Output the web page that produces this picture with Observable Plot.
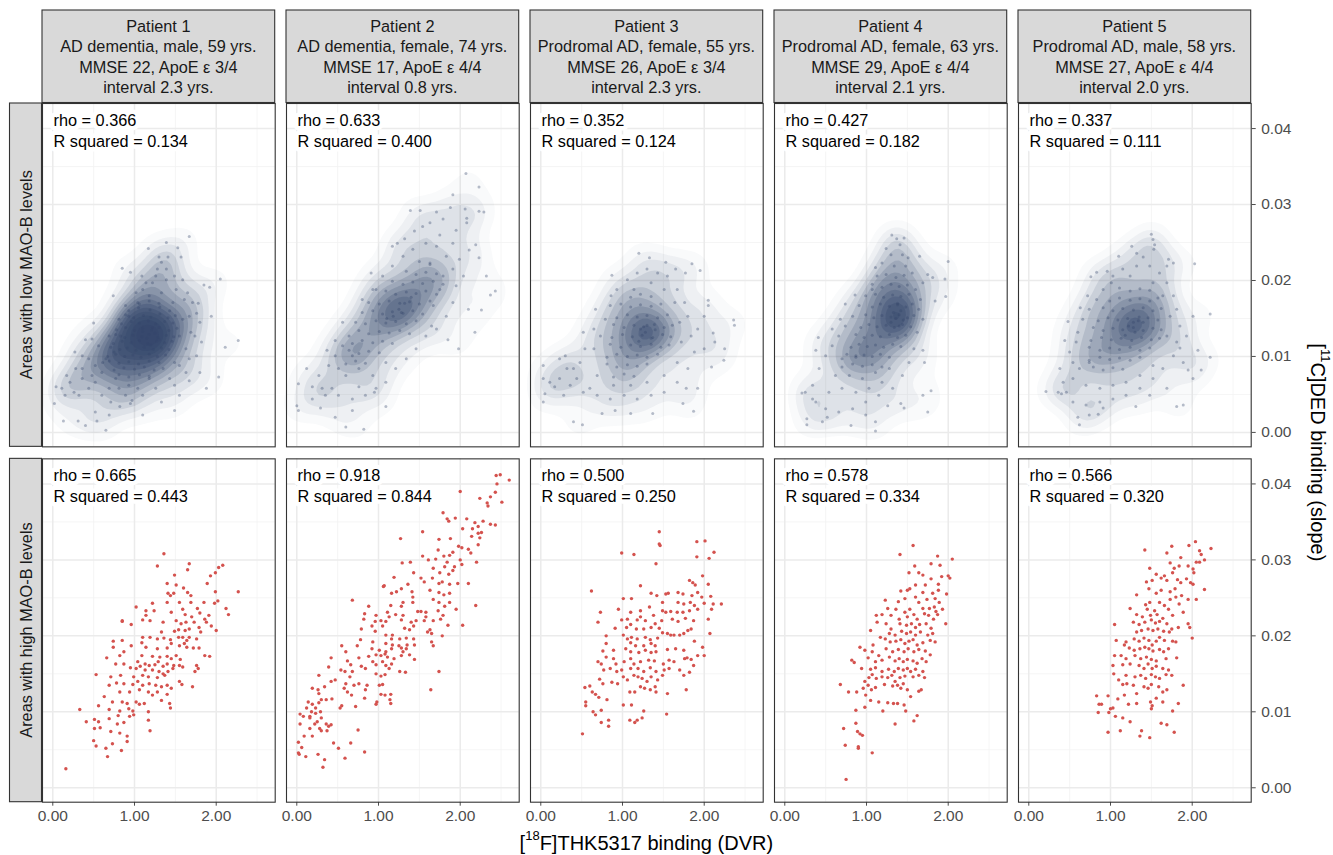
<!DOCTYPE html>
<html><head><meta charset="utf-8">
<script src="https://cdn.jsdelivr.net/npm/d3@7"></script>
<script src="https://cdn.jsdelivr.net/npm/@observablehq/plot@0.6"></script>
<style>
body{margin:0;background:#fff;}
#chart{position:relative;width:1333px;height:855px;}
</style></head><body><div id="chart"></div>
<script>
const patients = ["Patient 1","Patient 2","Patient 3","Patient 4","Patient 5"];
const stripLines = [
  ["Patient 1","AD dementia, male, 59 yrs.","MMSE 22, ApoE ε 3/4","interval 2.3 yrs."],
  ["Patient 2","AD dementia, female, 74 yrs.","MMSE 17, ApoE ε 4/4","interval 0.8 yrs."],
  ["Patient 3","Prodromal AD, female, 55 yrs.","MMSE 26, ApoE ε 3/4","interval 2.3 yrs."],
  ["Patient 4","Prodromal AD, female, 63 yrs.","MMSE 29, ApoE ε 4/4","interval 2.1 yrs."],
  ["Patient 5","Prodromal AD, male, 58 yrs.","MMSE 27, ApoE ε 4/4","interval 2.0 yrs."]
];
const levels = ["low","high"];
const levelLabels = ["Areas with low MAO-B levels","Areas with high MAO-B levels"];
const rhoLow = [0.366,0.633,0.352,0.427,0.337];
const rsqLow = [0.134,0.400,0.124,0.182,0.111];
const rhoHigh = [0.665,0.918,0.500,0.578,0.566];
const rsqHigh = [0.443,0.844,0.250,0.334,0.320];
const xTicks = [0,1,2];
const xMinor = [0.5,1.5,2.5];
const yTicks = [0,0.01,0.02,0.03,0.04];
const yMinor = [0.005,0.015,0.025,0.035];

// ---- Areas with high MAO-B levels (one array per patient) ----
const p1High = [[1.36,.0308],[1.28,.0292],[1.67,.0295],[1.65,.0287],[2.08,.0293],[2.03,.0290],[1.99,.0283],[1.93,.0279],[2.27,.0258],[1.40,.0269],[1.49,.0280],[1.51,.0267],[1.60,.0263],[1.89,.0269],[1.99,.0258],[1.65,.0257],[1.69,.0253],[1.41,.0256],[1.44,.0253],[1.48,.0256],[1.22,.0243],[1.40,.0244],[1.55,.0244],[1.69,.0244],[1.85,.0244],[1.98,.0243],[2.02,.0246],[2.12,.0236],[2.15,.0228],[1.02,.0238],[1.14,.0233],[1.24,.0233],[1.45,.0231],[1.59,.0235],[1.62,.0228],[1.70,.0225],[1.77,.0236],[1.80,.0230],[1.86,.0222],[1.91,.0227],[0.85,.0220],[0.96,.0215],[1.10,.0221],[1.19,.0220],[1.35,.0218],[1.51,.0220],[1.57,.0216],[1.63,.0218],[1.73,.0218],[1.88,.0218],[1.94,.0213],[2.00,.0207],[1.33,.0205],[1.49,.0206],[1.54,.0208],[1.62,.0207],[1.67,.0209],[1.79,.0211],[1.81,.0205],[1.10,.0198],[1.19,.0198],[1.28,.0196],[1.36,.0197],[1.44,.0195],[1.54,.0198],[1.59,.0198],[1.64,.0194],[1.67,.0198],[1.76,.0196],[0.74,.0193],[0.85,.0194],[0.74,.0185],[0.96,.0187],[1.14,.0185],[1.09,.0191],[1.28,.0183],[1.40,.0184],[1.45,.0190],[1.55,.0187],[1.61,.0190],[1.64,.0185],[1.72,.0184],[1.79,.0184],[1.86,.0174],[1.92,.0173],[0.66,.0171],[0.82,.0174],[0.87,.0179],[0.77,.0163],[0.87,.0163],[1.09,.0174],[1.22,.0173],[1.31,.0172],[1.40,.0173],[1.45,.0170],[1.51,.0174],[1.56,.0169],[1.04,.0166],[1.07,.0160],[1.13,.0163],[1.18,.0161],[1.25,.0162],[1.29,.0166],[1.35,.0160],[1.40,.0163],[1.48,.0161],[1.55,.0161],[1.59,.0159],[1.76,.0161],[1.78,.0157],[0.95,.0158],[1.02,.0157],[1.13,.0155],[1.22,.0155],[1.30,.0153],[1.35,.0150],[1.41,.0153],[1.47,.0157],[1.74,.0153],[0.53,.0149],[0.71,.0146],[0.83,.0148],[0.99,.0146],[1.10,.0148],[1.17,.0146],[1.28,.0145],[1.37,.0148],[1.55,.0140],[1.58,.0136],[1.71,.0133],[0.69,.0135],[0.78,.0138],[0.87,.0137],[0.98,.0136],[1.04,.0140],[1.10,.0135],[1.18,.0137],[1.26,.0135],[1.33,.0133],[1.40,.0135],[1.45,.0131],[0.82,.0126],[0.94,.0126],[1.06,.0129],[1.17,.0126],[1.22,.0122],[1.28,.0126],[1.40,.0123],[1.33,.0115],[1.43,.0111],[1.44,.0105],[0.63,.0120],[0.73,.0113],[0.85,.0113],[0.91,.0111],[1.02,.0113],[1.06,.0110],[1.12,.0111],[1.17,.0100],[0.33,.0103],[0.56,.0108],[0.69,.0103],[0.82,.0101],[0.93,.0104],[0.98,.0101],[0.80,.0095],[0.94,.0094],[0.99,.0096],[0.41,.0087],[0.51,.0090],[0.56,.0087],[0.69,.0091],[0.79,.0084],[0.87,.0086],[1.17,.0089],[0.51,.0078],[0.58,.0079],[0.71,.0074],[0.82,.0072],[0.91,.0068],[1.19,.0075],[0.50,.0062],[0.53,.0055],[0.65,.0052],[0.73,.0058],[0.91,.0061],[0.84,.0049],[0.67,.0041],[0.16,.0025],[0.85,.0219],[1.14,.0227]];
const p2High = [[2.49,.0412],[2.44,.0411],[2.60,.0405],[2.45,.0400],[2.43,.0389],[2.00,.0390],[2.24,.0381],[2.37,.0383],[2.33,.0375],[2.34,.0371],[2.51,.0376],[1.79,.0362],[1.86,.0351],[1.84,.0354],[1.94,.0355],[2.08,.0354],[2.18,.0349],[2.28,.0351],[2.22,.0344],[2.15,.0341],[2.22,.0335],[2.26,.0336],[2.24,.0329],[2.37,.0347],[2.43,.0346],[2.03,.0341],[2.14,.0331],[2.22,.0320],[1.54,.0337],[1.27,.0328],[1.74,.0327],[1.88,.0328],[1.98,.0318],[2.02,.0316],[2.10,.0314],[2.13,.0309],[2.20,.0297],[1.91,.0310],[1.87,.0306],[1.73,.0313],[1.54,.0305],[1.61,.0300],[1.70,.0301],[1.80,.0305],[1.84,.0297],[2.00,.0300],[1.93,.0291],[2.02,.0294],[1.29,.0296],[1.39,.0297],[1.67,.0289],[1.75,.0283],[1.81,.0291],[1.86,.0281],[1.91,.0286],[1.43,.0283],[1.19,.0277],[1.52,.0276],[1.56,.0271],[1.66,.0276],[1.74,.0269],[1.78,.0271],[1.87,.0268],[1.97,.0269],[2.10,.0269],[1.06,.0265],[1.07,.0266],[1.28,.0262],[1.16,.0256],[1.22,.0258],[1.36,.0268],[1.41,.0258],[1.63,.0260],[1.74,.0257],[1.80,.0254],[1.87,.0256],[1.42,.0251],[1.42,.0244],[1.30,.0244],[1.67,.0248],[1.74,.0244],[1.81,.0239],[1.87,.0244],[0.68,.0247],[0.88,.0239],[1.15,.0240],[1.28,.0239],[1.48,.0232],[1.52,.0232],[1.58,.0231],[1.73,.0233],[1.58,.0225],[1.56,.0220],[1.67,.0220],[1.76,.0222],[1.79,.0227],[1.95,.0235],[2.03,.0214],[1.85,.0214],[2.19,.0240],[0.83,.0229],[0.82,.0222],[0.97,.0227],[1.11,.0231],[1.13,.0225],[1.21,.0228],[0.96,.0219],[1.03,.0220],[0.92,.0213],[1.05,.0213],[1.09,.0219],[1.30,.0227],[1.28,.0221],[1.32,.0210],[1.40,.0218],[1.43,.0213],[1.38,.0208],[1.46,.0220],[1.63,.0208],[1.60,.0205],[1.65,.0203],[0.79,.0209],[0.96,.0206],[1.09,.0201],[1.17,.0201],[1.16,.0196],[1.26,.0196],[1.34,.0197],[1.43,.0196],[1.44,.0188],[1.65,.0192],[1.67,.0187],[1.78,.0200],[0.78,.0195],[0.93,.0192],[1.09,.0190],[1.17,.0188],[1.25,.0187],[1.35,.0188],[0.55,.0187],[0.74,.0187],[0.92,.0183],[1.01,.0181],[1.09,.0179],[1.16,.0183],[1.28,.0184],[1.30,.0179],[1.34,.0183],[0.60,.0179],[0.76,.0171],[0.88,.0173],[0.97,.0175],[1.03,.0174],[1.08,.0176],[1.11,.0172],[1.19,.0170],[1.28,.0174],[1.38,.0175],[1.44,.0169],[0.42,.0171],[0.62,.0167],[0.66,.0162],[0.79,.0160],[0.93,.0166],[0.97,.0162],[1.05,.0166],[1.09,.0161],[1.13,.0157],[1.16,.0163],[1.26,.0153],[1.33,.0152],[0.39,.0159],[0.54,.0155],[0.59,.0153],[0.68,.0153],[0.84,.0157],[0.97,.0150],[1.03,.0147],[1.08,.0149],[1.74,.0153],[0.27,.0148],[0.42,.0140],[0.47,.0142],[0.60,.0137],[0.65,.0146],[0.70,.0135],[0.76,.0137],[0.86,.0135],[1.01,.0135],[1.05,.0136],[0.19,.0131],[0.26,.0129],[0.27,.0124],[0.34,.0133],[0.58,.0131],[0.62,.0126],[0.67,.0122],[0.84,.0129],[1.03,.0123],[1.08,.0122],[1.15,.0123],[1.64,.0129],[0.14,.0113],[0.19,.0110],[0.23,.0105],[0.27,.0112],[0.30,.0116],[0.36,.0116],[0.43,.0117],[0.55,.0108],[0.53,.0105],[0.72,.0107],[0.83,.0118],[0.98,.0113],[0.97,.0110],[1.14,.0116],[1.15,.0111],[0.04,.0097],[0.08,.0094],[0.04,.0084],[0.16,.0094],[0.18,.0100],[0.23,.0098],[0.29,.0100],[0.30,.0092],[0.25,.0087],[0.22,.0084],[0.16,.0078],[0.28,.0078],[0.36,.0084],[0.39,.0081],[0.37,.0075],[0.42,.0083],[0.45,.0059],[0.09,.0068],[0.19,.0068],[0.30,.0075],[0.75,.0076],[0.51,.0052],[0.66,.0059],[0.02,.0060],[0.06,.0053],[0.02,.0046],[0.03,.0044],[0.11,.0041],[0.26,.0044],[0.34,.0037],[0.32,.0027],[0.59,.0039],[0.83,.0047],[0.16,.0092],[0.12,.0105]];
const p3High = [[1.45,.0337],[1.45,.0321],[1.46,.0319],[0.99,.0309],[1.14,.0307],[1.41,.0295],[1.91,.0324],[2.01,.0325],[2.12,.0310],[1.91,.0304],[2.06,.0302],[1.98,.0279],[1.82,.0273],[1.86,.0270],[1.89,.0267],[2.05,.0268],[0.62,.0259],[1.22,.0266],[1.35,.0256],[1.42,.0253],[1.53,.0255],[1.56,.0256],[1.68,.0257],[1.74,.0255],[1.85,.0253],[1.92,.0257],[1.97,.0251],[2.08,.0252],[2.00,.0243],[2.11,.0242],[2.21,.0242],[1.01,.0249],[1.11,.0249],[1.49,.0244],[1.68,.0244],[1.75,.0242],[1.83,.0244],[1.88,.0240],[0.73,.0231],[0.95,.0235],[1.10,.0231],[1.22,.0233],[1.33,.0238],[1.49,.0233],[1.53,.0231],[1.59,.0232],[1.67,.0231],[1.74,.0231],[1.82,.0233],[1.92,.0235],[2.09,.0235],[0.70,.0218],[0.99,.0221],[1.06,.0222],[1.18,.0221],[1.22,.0225],[1.28,.0220],[1.38,.0227],[1.40,.0216],[1.48,.0220],[1.61,.0222],[1.68,.0219],[1.77,.0223],[1.87,.0220],[2.05,.0222],[0.91,.0210],[1.05,.0211],[1.10,.0215],[1.17,.0209],[1.26,.0209],[1.35,.0211],[1.45,.0210],[1.49,.0204],[1.55,.0203],[1.59,.0201],[1.63,.0201],[1.70,.0201],[1.75,.0203],[1.80,.0207],[1.84,.0209],[2.07,.0203],[0.80,.0200],[1.01,.0201],[1.06,.0196],[1.11,.0198],[1.18,.0196],[1.28,.0198],[1.34,.0195],[1.43,.0197],[1.10,.0191],[1.16,.0187],[1.26,.0187],[1.35,.0190],[1.40,.0187],[1.88,.0193],[1.98,.0185],[0.80,.0190],[0.76,.0180],[0.89,.0181],[1.04,.0183],[1.10,.0179],[1.20,.0178],[1.28,.0181],[1.35,.0178],[1.41,.0179],[1.55,.0182],[1.65,.0183],[1.75,.0181],[1.79,.0171],[1.84,.0169],[1.92,.0174],[2.00,.0174],[0.80,.0172],[0.70,.0166],[0.74,.0163],[0.89,.0170],[0.92,.0163],[1.02,.0166],[1.10,.0170],[1.14,.0163],[1.22,.0166],[1.32,.0168],[1.39,.0167],[1.50,.0163],[1.57,.0168],[1.63,.0166],[1.76,.0170],[1.87,.0161],[0.77,.0155],[0.85,.0157],[0.93,.0153],[0.99,.0155],[1.10,.0157],[1.19,.0157],[1.26,.0153],[1.34,.0158],[1.41,.0153],[1.51,.0155],[1.57,.0157],[1.70,.0155],[1.75,.0148],[1.82,.0152],[0.72,.0143],[0.76,.0137],[0.87,.0139],[0.94,.0137],[1.01,.0146],[1.06,.0142],[1.14,.0148],[1.19,.0146],[1.24,.0144],[1.30,.0140],[1.35,.0146],[1.43,.0142],[1.49,.0148],[0.54,.0132],[0.60,.0134],[0.67,.0123],[0.71,.0119],[0.81,.0116],[0.63,.0126],[1.09,.0126],[1.15,.0126],[1.22,.0133],[1.27,.0131],[1.34,.0129],[1.40,.0133],[1.41,.0126],[1.55,.0124],[1.78,.0129],[0.55,.0113],[0.55,.0108],[0.64,.0100],[0.74,.0102],[0.67,.0096],[0.74,.0086],[0.83,.0089],[0.83,.0081],[1.01,.0109],[1.11,.0109],[1.26,.0101],[1.24,.0092],[1.18,.0089],[1.15,.0086],[1.09,.0089],[1.54,.0097],[0.51,.0071]];
const p4High = [[1.57,.0319],[1.41,.0307],[1.87,.0305],[2.05,.0301],[1.79,.0295],[1.90,.0293],[1.59,.0292],[1.52,.0283],[1.64,.0283],[1.69,.0280],[1.79,.0275],[1.92,.0278],[2.00,.0279],[2.02,.0276],[1.88,.0268],[1.72,.0267],[1.60,.0267],[1.50,.0260],[1.42,.0259],[1.53,.0262],[1.69,.0257],[1.81,.0256],[1.88,.0260],[1.98,.0255],[1.23,.0247],[1.39,.0245],[1.47,.0249],[1.60,.0251],[1.64,.0244],[1.74,.0248],[1.84,.0249],[1.89,.0244],[1.26,.0236],[1.36,.0235],[1.47,.0231],[1.53,.0235],[1.69,.0236],[1.77,.0236],[1.83,.0238],[1.85,.0232],[1.93,.0235],[1.12,.0227],[1.19,.0228],[1.30,.0227],[1.40,.0222],[1.50,.0225],[1.58,.0228],[1.62,.0222],[1.71,.0229],[1.76,.0227],[1.82,.0222],[1.87,.0228],[1.13,.0218],[1.24,.0216],[1.30,.0209],[1.41,.0216],[1.49,.0214],[1.55,.0216],[1.60,.0211],[1.65,.0215],[1.73,.0216],[1.79,.0210],[1.97,.0216],[1.05,.0207],[1.28,.0203],[1.35,.0201],[1.43,.0206],[1.49,.0203],[1.54,.0205],[1.60,.0201],[1.66,.0205],[1.75,.0201],[1.81,.0203],[1.08,.0188],[1.17,.0198],[1.23,.0196],[1.29,.0192],[1.36,.0193],[1.42,.0195],[1.47,.0190],[1.52,.0193],[1.57,.0195],[1.62,.0188],[1.69,.0191],[1.78,.0194],[1.84,.0192],[0.92,.0185],[0.98,.0181],[1.07,.0179],[1.15,.0174],[1.24,.0183],[1.32,.0179],[1.39,.0182],[1.46,.0179],[1.51,.0183],[1.58,.0179],[1.64,.0182],[1.72,.0180],[1.78,.0175],[0.82,.0168],[0.85,.0165],[1.02,.0171],[1.11,.0166],[1.19,.0168],[1.28,.0172],[1.35,.0167],[1.40,.0170],[1.45,.0166],[1.50,.0169],[1.57,.0167],[1.62,.0164],[1.68,.0170],[1.73,.0166],[0.94,.0157],[1.05,.0156],[1.11,.0158],[1.19,.0153],[1.27,.0156],[1.34,.0153],[1.39,.0157],[1.45,.0155],[1.50,.0157],[1.54,.0153],[1.60,.0156],[1.69,.0153],[0.68,.0136],[0.78,.0126],[0.88,.0126],[0.96,.0131],[0.98,.0140],[1.03,.0145],[1.07,.0149],[1.12,.0144],[1.19,.0146],[1.26,.0145],[1.31,.0148],[1.35,.0140],[1.41,.0145],[1.47,.0147],[1.57,.0146],[1.64,.0148],[1.71,.0145],[0.99,.0122],[1.02,.0135],[1.06,.0129],[1.11,.0132],[1.22,.0136],[1.32,.0134],[1.38,.0135],[1.42,.0131],[1.45,.0137],[1.50,.0129],[1.54,.0120],[1.64,.0127],[1.67,.0129],[1.05,.0115],[1.15,.0113],[1.26,.0112],[1.33,.0111],[1.38,.0111],[1.46,.0109],[0.87,.0102],[0.98,.0106],[1.20,.0101],[1.48,.0101],[1.62,.0095],[1.58,.0088],[0.87,.0085],[1.35,.0084],[0.89,.0074],[0.92,.0071],[0.95,.0069],[0.72,.0078],[0.74,.0056],[0.90,.0054],[0.90,.0052],[1.07,.0046],[0.75,.0011]];
const p5High = [[1.42,.0313],[1.75,.0318],[1.96,.0319],[2.04,.0324],[2.09,.0312],[2.11,.0307],[2.15,.0300],[2.09,.0297],[2.23,.0315],[2.05,.0297],[1.69,.0309],[1.73,.0296],[1.86,.0303],[1.84,.0292],[1.95,.0292],[2.01,.0288],[1.78,.0289],[1.76,.0283],[1.48,.0289],[1.56,.0281],[1.62,.0276],[1.66,.0279],[1.69,.0273],[1.51,.0273],[1.44,.0271],[1.82,.0274],[1.86,.0270],[1.93,.0275],[1.98,.0270],[2.01,.0268],[2.02,.0283],[2.15,.0261],[2.05,.0248],[1.95,.0248],[1.32,.0254],[1.47,.0262],[1.56,.0256],[1.62,.0260],[1.73,.0258],[1.79,.0262],[1.80,.0251],[1.87,.0253],[1.73,.0248],[1.24,.0236],[1.43,.0241],[1.48,.0244],[1.60,.0244],[1.66,.0240],[1.45,.0235],[1.54,.0233],[1.71,.0235],[1.84,.0242],[1.32,.0228],[1.39,.0225],[1.49,.0227],[1.57,.0228],[1.64,.0223],[1.76,.0227],[1.89,.0231],[1.05,.0215],[1.28,.0218],[1.35,.0215],[1.42,.0218],[1.50,.0221],[1.55,.0217],[1.60,.0219],[1.69,.0216],[1.75,.0209],[1.83,.0211],[1.95,.0216],[1.97,.0211],[1.32,.0205],[1.38,.0207],[1.46,.0209],[1.52,.0207],[1.58,.0209],[1.65,.0206],[1.72,.0205],[2.00,.0197],[1.07,.0194],[1.19,.0192],[1.29,.0196],[1.35,.0193],[1.41,.0197],[1.47,.0194],[1.51,.0188],[1.56,.0193],[1.60,.0198],[1.66,.0194],[1.76,.0193],[1.80,.0192],[1.17,.0188],[1.23,.0184],[1.29,.0181],[1.36,.0183],[1.42,.0185],[1.47,.0183],[1.52,.0180],[1.60,.0182],[1.65,.0179],[1.71,.0183],[1.05,.0174],[1.13,.0174],[1.19,.0170],[1.30,.0174],[1.37,.0170],[1.44,.0172],[1.50,.0169],[1.56,.0167],[1.68,.0170],[1.81,.0171],[1.03,.0161],[1.15,.0162],[1.24,.0163],[1.35,.0161],[1.41,.0157],[1.46,.0163],[1.51,.0157],[1.56,.0160],[1.64,.0157],[1.71,.0155],[1.75,.0148],[1.04,.0150],[1.10,.0142],[1.19,.0148],[1.30,.0146],[1.37,.0148],[1.43,.0144],[1.50,.0149],[1.55,.0146],[1.60,.0144],[1.68,.0149],[1.15,.0136],[1.20,.0137],[1.28,.0135],[1.32,.0124],[1.41,.0133],[1.46,.0131],[1.50,.0136],[1.59,.0133],[1.64,.0126],[1.69,.0129],[1.89,.0135],[0.83,.0121],[0.97,.0121],[1.09,.0117],[1.17,.0122],[1.22,.0110],[1.32,.0111],[0.86,.0110],[0.89,.0110],[1.00,.0104],[1.03,.0105],[0.85,.0099],[0.98,.0099],[1.06,.0094],[1.15,.0092],[1.24,.0087],[1.49,.0113],[1.51,.0108],[1.50,.0104],[1.56,.0118],[1.64,.0113],[1.76,.0101],[1.83,.0111],[0.97,.0073],[1.12,.0075],[1.36,.0068],[1.38,.0075],[1.48,.0066],[1.62,.0085],[1.69,.0083],[1.78,.0073]];

// ---- Areas with low MAO-B levels (dense clouds, estimated) ----
const p1Low = [[1.67,.0258],[1.39,.0250],[1.17,.0242],[1.53,.0243],[1.57,.0231],[1.30,.0231],[1.41,.0231],[1.33,.0224],[2.05,.0202],[1.85,.0194],[1.92,.0191],[1.78,.0170],[1.94,.0153],[2.27,.0121],[2.11,.0112],[2.03,.0073],[1.88,.0058],[1.49,.0029],[1.67,.0068],[0.40,.0122],[0.50,.0144],[0.27,.0106],[0.04,.0060],[0.02,.0038],[0.13,.0015],[0.31,.0015],[0.40,.0009],[0.65,.0003],[0.54,.0015],[0.82,.0034],[0.95,.0038],[1.10,.0023],[0.26,.0053],[0.17,.0075],[0.48,.0075],[0.36,.0084],[0.61,.0092],[0.74,.0180],[0.95,.0211],[1.09,.0206],[0.85,.0216],[1.76,.0157],[1.74,.0127],[1.67,.0097],[1.80,.0079],[1.55,.0049],[1.33,.0040],[0.71,.0040],[0.52,.0027],[0.69,.0023],
[0.56,.0114],[0.69,.0127],[0.81,.0149],[0.89,.0167],[1.02,.0184],[1.14,.0197],[1.26,.0206],[1.39,.0201],[1.51,.0188],[1.61,.0175],[1.67,.0153],[1.69,.0132],[1.63,.0110],[1.55,.0088],[1.43,.0071],[1.26,.0058],[1.10,.0049],[0.89,.0049],[0.69,.0058],[0.52,.0066],[0.36,.0071],[0.28,.0084],[0.44,.0097],[0.60,.0079],[0.77,.0071],[0.93,.0062],[1.18,.0071],[1.35,.0084],[1.49,.0092],[1.55,.0127],[1.59,.0149],[1.47,.0171],[1.33,.0184],[1.18,.0180],[1.04,.0171],[0.93,.0153],[0.83,.0127],[0.75,.0106],[0.65,.0097],[0.52,.0088],[0.44,.0058],[0.60,.0049],[0.81,.0058],[1.04,.0058],[1.22,.0197],[1.10,.0188],[1.39,.0215],[1.28,.0215],[1.49,.0206],[1.59,.0201],[1.65,.0184],[1.71,.0171],[1.80,.0145],[1.82,.0119],[1.76,.0101],[1.63,.0079],[1.49,.0062],[0.97,.0042],[0.32,.0049],[0.15,.0049],[0.21,.0066],[0.11,.0058],[0.36,.0101],[0.48,.0123],
[1.06,.0169],[1.18,.0173],[1.30,.0170],[0.93,.0160],[1.05,.0164],[1.19,.0161],[1.31,.0165],[1.43,.0160],[0.89,.0155],[0.99,.0151],[1.11,.0154],[1.20,.0152],[1.31,.0156],[1.41,.0151],[1.50,.0154],[0.84,.0143],[0.96,.0146],[1.06,.0144],[1.17,.0147],[1.26,.0143],[1.37,.0146],[1.47,.0144],[0.78,.0135],[0.89,.0138],[1.00,.0134],[1.10,.0137],[1.21,.0135],[1.30,.0138],[1.42,.0134],[1.52,.0137],[0.77,.0129],[0.88,.0125],[0.98,.0128],[1.09,.0126],[1.18,.0129],[1.29,.0125],[1.39,.0128],[1.48,.0126],[0.74,.0117],[0.85,.0120],[0.96,.0118],[1.06,.0121],[1.16,.0117],[1.27,.0120],[1.37,.0118],[1.46,.0120],[0.71,.0112],[0.82,.0109],[0.91,.0111],[1.02,.0108],[1.12,.0112],[1.23,.0109],[1.33,.0111],[1.42,.0109],[0.67,.0100],[0.77,.0103],[0.88,.0100],[0.98,.0102],[1.08,.0099],[1.18,.0103],[1.28,.0100],[1.38,.0102],[0.69,.0094],[0.81,.0091],[0.93,.0093],[1.05,.0090],[1.18,.0094],[1.30,.0092],[0.75,.0082],[0.87,.0085],[1.00,.0083],[1.12,.0086],[1.24,.0082],[0.81,.0076],[0.93,.0073],[1.06,.0076],[1.18,.0074],[1.15,.0124],[1.25,.0131],[1.20,.0115],[1.30,.0122],[1.10,.0133],[1.22,.0138]];
const p2Low = [[2.07,.0341],[2.23,.0323],[1.91,.0313],[1.88,.0296],[2.23,.0291],[2.29,.0290],[2.06,.0294],[2.08,.0282],[2.08,.0276],[1.39,.0292],[1.51,.0292],[1.71,.0290],[1.79,.0281],[1.95,.0266],[2.43,.0186],[2.37,.0181],[2.32,.0206],[2.23,.0230],[2.19,.0247],[2.11,.0240],[2.26,.0161],[2.18,.0132],[2.10,.0162],[1.98,.0110],[1.85,.0122],[1.65,.0140],[1.09,.0034],[0.82,.0004],[0.60,.0007],[0.47,.0020],[0.29,.0032],[0.02,.0029],[0.00,.0035],[0.02,.0064],[0.12,.0084],[0.19,.0060],[0.37,.0108],[0.47,.0121],[0.56,.0145],[0.91,.0210],[0.93,.0188],[0.80,.0175],[1.17,.0245],[1.23,.0249],[1.32,.0255],[1.44,.0265],[1.54,.0271],[1.63,.0276],[1.75,.0260],[1.91,.0249],[0.76,.0060],[0.95,.0053],[0.68,.0029],[0.35,.0049],
[0.27,.0075],[0.39,.0088],[0.47,.0101],[0.56,.0114],[0.64,.0127],[0.72,.0145],[0.80,.0158],[0.88,.0171],[0.97,.0188],[1.05,.0206],[1.17,.0219],[1.30,.0232],[1.42,.0241],[1.58,.0249],[1.71,.0245],[1.83,.0232],[1.91,.0215],[1.95,.0193],[1.91,.0171],[1.83,.0153],[1.71,.0136],[1.58,.0127],[1.46,.0110],[1.34,.0097],[1.21,.0084],[1.09,.0066],[0.97,.0058],[0.84,.0049],[0.68,.0044],[0.51,.0049],[0.43,.0058],[0.31,.0058],[0.19,.0044],[0.60,.0075],[0.76,.0084],[0.93,.0075],[1.09,.0092],[0.68,.0101],[0.51,.0084],[1.79,.0206],[1.75,.0188],[1.99,.0228],[2.04,.0206],[1.67,.0167],[1.63,.0223],
[1.50,.0225],[1.63,.0221],[1.34,.0212],[1.46,.0208],[1.58,.0211],[1.71,.0209],[1.17,.0199],[1.30,.0195],[1.42,.0198],[1.54,.0196],[1.67,.0199],[1.79,.0195],[1.09,.0186],[1.21,.0182],[1.34,.0185],[1.46,.0183],[1.58,.0186],[1.71,.0182],[1.01,.0169],[1.13,.0173],[1.26,.0170],[1.38,.0172],[1.50,.0169],[1.63,.0173],[0.93,.0160],[1.05,.0156],[1.17,.0159],[1.30,.0157],[1.42,.0160],[1.54,.0156],[0.84,.0143],[0.97,.0147],[1.09,.0144],[1.21,.0146],[1.34,.0143],[1.46,.0147],[0.76,.0134],[0.88,.0130],[1.01,.0133],[1.13,.0131],[1.26,.0134],[1.38,.0130],[0.68,.0117],[0.80,.0121],[0.93,.0118],[1.05,.0120],[1.17,.0117],[0.64,.0108],[0.76,.0104],[0.88,.0107],[1.01,.0105],[0.60,.0090],[0.72,.0094],[0.84,.0091],[1.25,.0162],[1.32,.0170],[1.18,.0153],[1.40,.0178],[1.10,.0150],[1.28,.0158]];
const p3Low = [[1.20,.0236],[1.33,.0230],[0.87,.0207],[1.53,.0224],[1.65,.0215],[1.85,.0222],[1.95,.0213],[1.77,.0210],[2.05,.0174],[2.05,.0167],[2.36,.0148],[2.37,.0141],[2.00,.0153],[2.11,.0131],[2.13,.0119],[2.25,.0110],[2.24,.0095],[2.09,.0086],[1.87,.0028],[1.74,.0038],[1.37,.0025],[1.10,.0025],[0.91,.0029],[0.51,.0010],[0.40,.0014],[0.75,.0025],[0.03,.0088],[0.03,.0071],[0.05,.0051],[0.03,.0040],[0.17,.0060],[0.23,.0097],[0.30,.0101],[0.52,.0132],[0.65,.0136],[0.67,.0162],[0.86,.0180],[0.54,.0110],[0.40,.0084],[0.28,.0049],[1.78,.0058],[1.92,.0058],
[0.93,.0188],[1.06,.0201],[1.18,.0210],[1.30,.0215],[1.43,.0210],[1.55,.0206],[1.67,.0188],[1.76,.0171],[1.80,.0153],[1.84,.0127],[1.88,.0106],[1.80,.0084],[1.67,.0066],[1.51,.0053],[1.35,.0049],[1.18,.0044],[1.02,.0049],[0.85,.0044],[0.69,.0049],[0.52,.0053],[0.36,.0062],[0.23,.0071],[0.11,.0066],[0.32,.0084],[0.48,.0092],[0.65,.0110],[0.73,.0127],[0.79,.0149],[0.85,.0167],[0.69,.0075],[0.89,.0062],[1.10,.0062],[1.30,.0066],[1.51,.0075],[1.67,.0092],[1.72,.0119],[1.70,.0145],[1.64,.0171],[1.51,.0188],[1.35,.0197],[1.14,.0188],[1.92,.0136],[2.00,.0110],[0.60,.0058],[0.44,.0071],
[1.10,.0178],[1.22,.0182],[1.35,.0179],[0.98,.0169],[1.10,.0165],[1.22,.0168],[1.35,.0166],[1.47,.0169],[0.93,.0151],[1.06,.0155],[1.18,.0152],[1.30,.0154],[1.43,.0151],[1.55,.0155],[0.89,.0142],[1.02,.0138],[1.14,.0141],[1.26,.0139],[1.39,.0142],[1.51,.0138],[1.61,.0141],[0.87,.0125],[1.00,.0129],[1.12,.0126],[1.24,.0128],[1.37,.0125],[1.49,.0129],[1.59,.0126],[0.85,.0116],[0.98,.0112],[1.10,.0115],[1.22,.0113],[1.35,.0116],[1.47,.0112],[1.57,.0115],[0.81,.0099],[0.93,.0103],[1.06,.0100],[1.18,.0102],[1.30,.0099],[1.43,.0103],[0.81,.0090],[0.93,.0086],[1.06,.0089],[1.18,.0087],[1.30,.0090],[0.89,.0073],[1.02,.0077],[1.14,.0074],[1.28,.0132],[1.35,.0124],[1.22,.0136],[1.40,.0135],[1.30,.0141],[1.20,.0120]];
const p4Low = [[1.31,.0260],[1.46,.0256],[1.37,.0255],[1.41,.0247],[1.24,.0242],[1.30,.0234],[1.44,.0234],[1.51,.0230],[1.65,.0232],[2.00,.0225],[1.96,.0202],[1.97,.0179],[1.84,.0173],[1.81,.0204],[1.75,.0208],[1.69,.0197],[1.11,.0217],[1.07,.0195],[0.86,.0181],[0.74,.0169],[0.68,.0149],[0.58,.0136],[0.41,.0125],[0.38,.0108],[0.25,.0053],[0.21,.0052],[0.27,.0018],[0.27,.0010],[0.46,.0014],[0.52,.0020],[0.81,.0009],[1.11,.0002],[1.26,.0035],[1.42,.0038],[1.46,.0032],[1.75,.0027],[1.79,.0055],[1.69,.0049],[1.71,.0092],[1.69,.0108],[1.11,.0014],[0.99,.0023],[0.34,.0044],
[1.19,.0223],[1.34,.0219],[1.48,.0219],[1.56,.0210],[1.60,.0188],[1.64,.0162],[1.62,.0132],[1.58,.0110],[1.52,.0092],[1.44,.0075],[1.32,.0058],[1.15,.0049],[0.99,.0040],[0.83,.0031],[0.66,.0027],[0.50,.0031],[0.38,.0040],[0.34,.0062],[0.42,.0084],[0.50,.0101],[0.58,.0114],[0.66,.0127],[0.74,.0140],[0.83,.0153],[0.91,.0167],[0.99,.0180],[1.07,.0188],[1.13,.0206],[0.70,.0058],[0.87,.0053],[1.03,.0058],[1.19,.0066],[0.54,.0053],[0.62,.0075],[0.79,.0075],[0.95,.0071],[1.11,.0079],[1.28,.0084],[0.70,.0097],[0.87,.0101],[1.69,.0149],[1.66,.0175],
[1.24,.0208],[1.36,.0204],[1.46,.0207],[1.19,.0191],[1.30,.0195],[1.40,.0192],[1.50,.0194],[1.11,.0182],[1.21,.0178],[1.32,.0181],[1.42,.0179],[1.52,.0182],[1.07,.0165],[1.17,.0169],[1.28,.0166],[1.38,.0168],[1.48,.0165],[1.56,.0169],[0.99,.0155],[1.09,.0151],[1.19,.0154],[1.30,.0152],[1.40,.0155],[1.50,.0151],[1.58,.0154],[0.93,.0138],[1.03,.0142],[1.13,.0139],[1.24,.0141],[1.34,.0138],[1.44,.0142],[1.54,.0139],[0.87,.0129],[0.97,.0125],[1.07,.0128],[1.17,.0126],[1.28,.0129],[1.38,.0125],[1.48,.0128],[0.81,.0112],[0.91,.0116],[1.01,.0113],[1.11,.0115],[1.21,.0112],[1.32,.0116],[1.42,.0113],[0.76,.0103],[0.87,.0099],[0.97,.0102],[1.07,.0100],[1.17,.0103],[1.28,.0099],[0.70,.0086],[0.83,.0090],[0.95,.0087],[1.07,.0089],[1.19,.0086],[1.36,.0150],[1.42,.0160],[1.30,.0145],[1.38,.0170],[1.45,.0148],[1.33,.0158],[1.40,.0140]];
const p5Low = [[1.50,.0261],[1.52,.0254],[1.53,.0241],[1.54,.0247],[1.26,.0245],[1.40,.0231],[1.10,.0232],[1.32,.0236],[1.71,.0228],[1.77,.0223],[2.03,.0222],[1.69,.0219],[0.76,.0205],[0.83,.0211],[0.96,.0212],[1.01,.0197],[0.72,.0180],[0.63,.0164],[2.22,.0156],[2.01,.0153],[2.07,.0108],[2.22,.0099],[2.11,.0082],[1.95,.0082],[2.01,.0071],[1.85,.0111],[1.89,.0092],[1.89,.0036],[1.81,.0034],[1.31,.0034],[0.62,.0010],[0.60,.0020],[0.74,.0023],[0.85,.0024],[0.91,.0032],[0.21,.0054],[0.36,.0053],[0.40,.0051],[0.42,.0066],[0.38,.0084],[0.44,.0121],[0.48,.0146],[0.60,.0132],[0.54,.0092],[1.48,.0049],[1.69,.0058],
[0.91,.0188],[1.03,.0206],[1.15,.0215],[1.32,.0219],[1.48,.0219],[1.60,.0210],[1.69,.0197],[1.77,.0180],[1.81,.0162],[1.85,.0140],[1.81,.0119],[1.77,.0101],[1.64,.0084],[1.52,.0071],[1.36,.0058],[1.19,.0049],[1.03,.0044],[0.87,.0040],[0.70,.0036],[0.54,.0040],[0.46,.0053],[0.54,.0071],[0.50,.0106],[0.58,.0119],[0.66,.0149],[0.74,.0162],[0.83,.0175],[0.70,.0062],[0.87,.0058],[1.03,.0062],[1.19,.0066],[1.36,.0075],[1.52,.0088],[0.62,.0084],[0.74,.0092],[1.69,.0127],[1.73,.0153],[1.64,.0180],[1.52,.0197],[1.24,.0206],[1.93,.0127],
[1.11,.0190],[1.24,.0186],[1.36,.0189],[1.48,.0187],[0.99,.0173],[1.11,.0177],[1.24,.0174],[1.36,.0176],[1.48,.0173],[1.58,.0177],[0.91,.0164],[1.03,.0160],[1.15,.0163],[1.28,.0161],[1.40,.0164],[1.52,.0160],[1.62,.0163],[0.85,.0147],[0.97,.0151],[1.09,.0148],[1.21,.0150],[1.34,.0147],[1.46,.0151],[1.58,.0148],[0.79,.0138],[0.91,.0134],[1.03,.0137],[1.15,.0135],[1.28,.0138],[1.40,.0134],[1.52,.0137],[1.62,.0135],[0.76,.0121],[0.89,.0125],[1.01,.0122],[1.13,.0124],[1.26,.0121],[1.38,.0125],[1.50,.0122],[1.60,.0124],[0.74,.0112],[0.87,.0108],[0.99,.0111],[1.11,.0109],[1.24,.0112],[1.36,.0108],[1.48,.0111],[0.74,.0095],[0.87,.0099],[0.99,.0096],[1.11,.0098],[1.24,.0095],[1.36,.0099],[0.79,.0086],[0.91,.0082],[1.03,.0085],[1.15,.0083],[1.28,.0145],[1.35,.0152],[1.22,.0140],[1.30,.0132],[1.40,.0145],[1.18,.0128]];

const lowSets = [p1Low,p2Low,p3Low,p4Low,p5Low];
const highSets = [p1High,p2High,p3High,p4High,p5High];

// one table for the facets: points plus one annotation row per panel
const rows = [];
patients.forEach((p, i) => {
  lowSets[i].forEach(([x, y]) => rows.push({patient: p, level: "low", kind: "pt", x, y}));
  highSets[i].forEach(([x, y]) => rows.push({patient: p, level: "high", kind: "pt", x, y}));
  rows.push({patient: p, level: "low", kind: "lab", rho: rhoLow[i], rsq: rsqLow[i]});
  rows.push({patient: p, level: "high", kind: "lab", rho: rhoHigh[i], rsq: rsqHigh[i]});
});

const W = 1333, H = 855;
const M = {left: 42, right: W - 1250.7, top: 103, bottom: H - 801.7};
const fxPad = 0.0463, fyPad = 0.0338;
const FONT = "'Liberation Sans', Arial, Helvetica, sans-serif";
const f2 = d3.format(".2f");
const isLab = d => d.kind === "lab";
const NAVY = "#34466b";

const plot = Plot.plot({
  width: W, height: H,
  marginLeft: M.left, marginRight: M.right, marginTop: M.top, marginBottom: M.bottom,
  facet: {data: rows, x: "patient", y: "level"},
  fx: {domain: patients, axis: null, paddingInner: fxPad, paddingOuter: 0, round: false},
  fy: {domain: levels, axis: null, paddingInner: fyPad, paddingOuter: 0, round: false},
  x: {domain: [-0.126, 2.722], ticks: xTicks, tickFormat: f2, tickSize: 4, tickPadding: 4, label: null},
  y: {domain: [-0.0019, 0.0433], axis: "right", ticks: yTicks, tickFormat: f2, tickSize: 4, tickPadding: 6, label: null},
  color: {type: "linear", range: ["rgba(52,70,107,0)", "rgba(52,70,107,0.42)"], legend: false},
  style: {fontFamily: FONT, fontSize: "15.5px", color: "#4d4d4d", background: "white", overflow: "visible"},
  marks: [
    Plot.ruleX(xMinor, {stroke: "#f2f2f2", strokeWidth: 0.8}),
    Plot.ruleY(yMinor, {stroke: "#f2f2f2", strokeWidth: 0.8}),
    Plot.ruleX(xTicks, {stroke: "#ebebeb", strokeWidth: 1.5}),
    Plot.ruleY(yTicks, {stroke: "#ebebeb", strokeWidth: 1.5}),
    Plot.density(rows, {filter: d => d.kind === "pt" && d.level === "low", x: "x", y: "y",
      fill: "density", stroke: "none", bandwidth: 11, thresholds: 16}),
    Plot.dot(rows, {filter: d => d.kind === "pt" && d.level === "low", x: "x", y: "y",
      r: 1.5, fill: NAVY, fillOpacity: 0.35, stroke: "none"}),
    Plot.dot(rows, {filter: d => d.kind === "pt" && d.level === "high", x: "x", y: "y",
      r: 1.7, fill: "#d4524e", stroke: "none"}),
    Plot.text(rows, {filter: isLab, text: d => isLab(d) ? "rho = " + d.rho.toFixed(3) : "",
      frameAnchor: "top-left", dx: 11, dy: 17, textAnchor: "start", lineAnchor: "middle",
      fill: "#000", stroke: "white", strokeWidth: 9, fontSize: 16.3}),
    Plot.text(rows, {filter: isLab, text: d => isLab(d) ? "R squared = " + d.rsq.toFixed(3) : "",
      frameAnchor: "top-left", dx: 11, dy: 38, textAnchor: "start", lineAnchor: "middle",
      fill: "#000", stroke: "white", strokeWidth: 9, fontSize: 16.3}),
    Plot.frame({stroke: "#333", strokeWidth: 1.1})
  ]
});
document.getElementById("chart").appendChild(plot);

// strips and axis titles, positioned with the same band layout as the facets
const fxB = d3.scaleBand(patients, [M.left, W - M.right]).paddingInner(fxPad).paddingOuter(0);
const fyB = d3.scaleBand(levels, [M.top, H - M.bottom]).paddingInner(fyPad).paddingOuter(0);
const svg = d3.select(plot);
const g = svg.append("g").attr("font-family", FONT);

patients.forEach((p, i) => {
  const x0 = fxB(p), w = fxB.bandwidth();
  g.append("rect").attr("x", x0).attr("y", 10).attr("width", w).attr("height", M.top - 10 - 0.5)
    .attr("fill", "#d9d9d9").attr("stroke", "#333").attr("stroke-width", 1.1);
  stripLines[i].forEach((t, k) => {
    g.append("text").attr("x", x0 + w / 2).attr("y", 25.5 + k * 20.5)
      .attr("text-anchor", "middle").attr("dominant-baseline", "central")
      .attr("font-size", 16.3).attr("fill", "#1a1a1a").text(t);
  });
});
levels.forEach((l, i) => {
  const y0 = fyB(l), h = fyB.bandwidth();
  g.append("rect").attr("x", 9.5).attr("y", y0).attr("width", M.left - 9.5 - 0.5).attr("height", h)
    .attr("fill", "#d9d9d9").attr("stroke", "#333").attr("stroke-width", 1.1);
  g.append("text").attr("transform", `translate(${(9.5 + M.left) / 2},${y0 + h / 2}) rotate(-90)`)
    .attr("text-anchor", "middle").attr("dominant-baseline", "central")
    .attr("font-size", 16.3).attr("fill", "#1a1a1a").text(levelLabels[i]);
});

const xt = g.append("text").attr("x", (M.left + W - M.right) / 2).attr("y", 843)
  .attr("text-anchor", "middle").attr("dominant-baseline", "central")
  .attr("font-size", 20).attr("fill", "#000");
xt.append("tspan").text("[");
xt.append("tspan").attr("font-size", 13).attr("baseline-shift", "super").text("18");
xt.append("tspan").text("F]THK5317 binding (DVR)");

const yt = g.append("text").attr("transform", `translate(1318,${(M.top + H - M.bottom) / 2}) rotate(90)`)
  .attr("text-anchor", "middle").attr("dominant-baseline", "central")
  .attr("font-size", 20).attr("fill", "#000");
yt.append("tspan").text("[");
yt.append("tspan").attr("font-size", 13).attr("baseline-shift", "super").text("11");
yt.append("tspan").text("C]DED binding (slope)");
</script>
</body></html>
